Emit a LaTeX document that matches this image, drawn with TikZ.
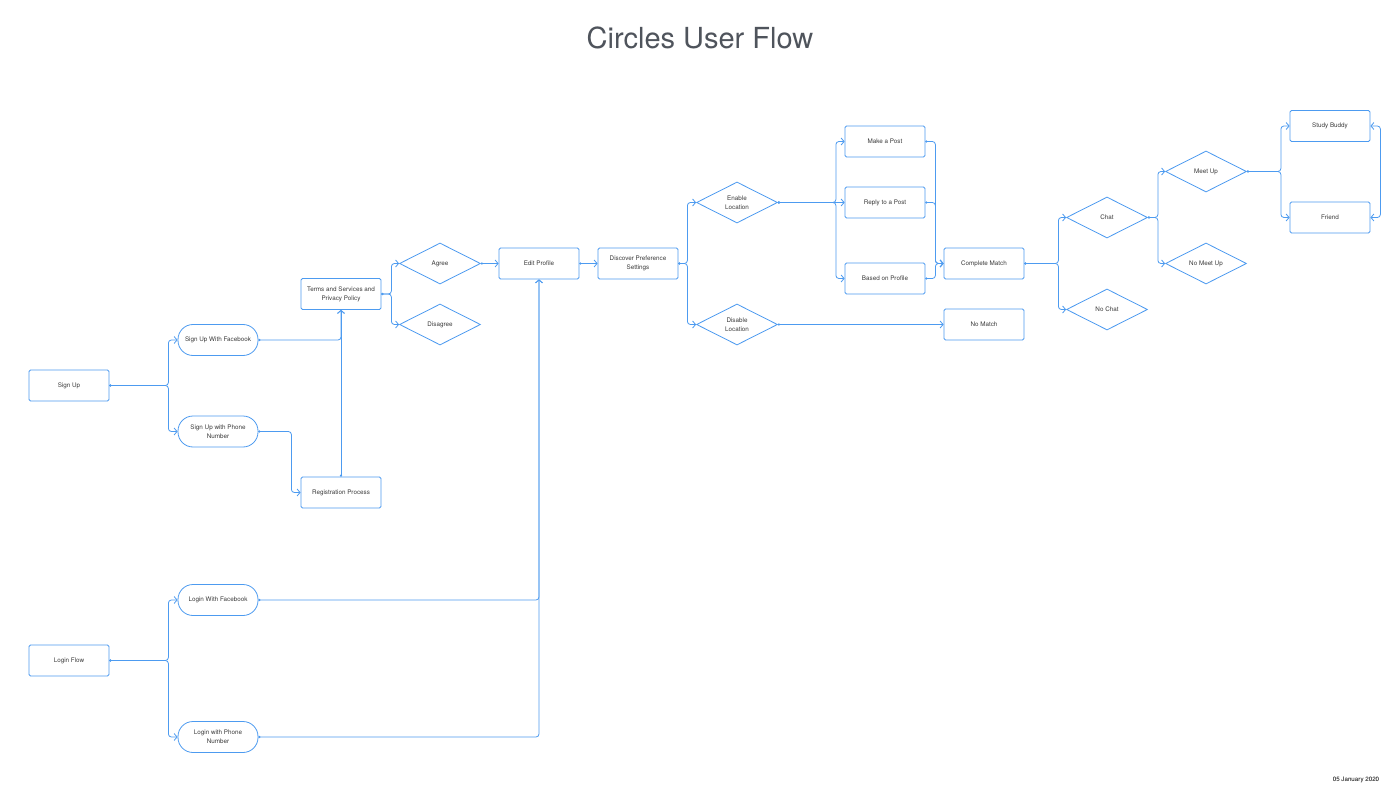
\documentclass[tikz,border=0pt]{standalone}
\usepackage{fontspec}
\setmainfont{TeX Gyre Heros}
\usetikzlibrary{shapes.geometric,arrows.meta}
\definecolor{flowblue}{HTML}{4D9BF0}
\definecolor{txt}{HTML}{3A3A3A}
\definecolor{titlegray}{HTML}{4F545C}
\begin{document}
\begin{tikzpicture}[x=1pt,y=-1pt,
  base/.style={draw=flowblue, line width=0.8pt, text=txt, font=\fontsize{6.3}{9}\selectfont, align=center, inner sep=1pt},
  box/.style={base, rectangle, rounded corners=1.5pt, minimum width=80pt, minimum height=31pt},
  pill/.style={base, rectangle, rounded corners=15pt, minimum width=80pt, minimum height=31pt},
  dia/.style={base, diamond, aspect=2, minimum width=81pt, minimum height=41pt},
  conn/.style={draw=flowblue, line width=0.8pt, rounded corners=3pt, {Circle[length=2pt]}-{Straight Barb[length=3pt,width=7pt]}},
  conn2/.style={draw=flowblue, line width=0.8pt, rounded corners=3pt, {Straight Barb[length=3pt,width=7pt]}-{Straight Barb[length=3pt,width=7pt]}}
]
\useasboundingbox[fill=white] (0,0) rectangle (1400,810);

\node[text=titlegray, font=\fontsize{29}{34}\selectfont] (title) at (700,38) {Circles User Flow};
\node[text=black, font=\fontsize{6.2}{8}\selectfont] (date) at (1356,780) {05 January 2020};

\node[box] (su) at (69,385.5) {Sign Up};
\node[box] (lf) at (69,660.5) {Login Flow};
\node[pill] (sfb) at (218,340) {Sign Up With Facebook};
\node[pill] (sph) at (218,431.5) {Sign Up with Phone\\Number};
\node[pill] (lfb) at (218,600) {Login With Facebook};
\node[pill] (lph) at (218,737) {Login with Phone\\Number};
\node[box] (tos) at (341,294) {Terms and Services and\\Privacy Policy};
\node[box] (reg) at (341,492.5) {Registration Process};
\node[dia] (agree) at (440,263.5) {Agree};
\node[dia] (disagree) at (440,324.5) {Disagree};
\node[box] (edit) at (539,263.5) {Edit Profile};
\node[box] (disc) at (638,263.5) {Discover Preference\\Settings};
\node[dia] (enable) at (737,202.5) {Enable\\Location};
\node[dia] (disable) at (737,324.5) {Disable\\Location};
\node[box] (make) at (885,141.5) {Make a Post};
\node[box] (reply) at (885,202.5) {Reply to a Post};
\node[box] (based) at (885,278.5) {Based on Profile};
\node[box] (cm) at (984,263.5) {Complete Match};
\node[box] (nomatch) at (984,324.5) {No Match};
\node[dia] (chat) at (1107,217.5) {Chat};
\node[dia] (nochat) at (1107,309.5) {No Chat};
\node[dia] (meet) at (1206,171.5) {Meet Up};
\node[dia] (nomeet) at (1206,263.5) {No Meet Up};
\node[box] (sb) at (1330,126) {Study Buddy};
\node[box] (friend) at (1330,217.5) {Friend};

\draw[conn] (su.east) -- ++(59,0) |- (sfb.west);
\draw[conn] (su.east) -- ++(59,0) |- (sph.west);
\draw[conn] (sfb.east) -| (tos.south);
\draw[conn] (sph.east) -- ++(33,0) |- (reg.west);
\draw[conn] (reg.north) -- (tos.south);
\draw[conn] (tos.east) -- ++(10,0) |- (agree.west);
\draw[conn] (tos.east) -- ++(10,0) |- (disagree.west);
\draw[conn] (agree.east) -- (edit.west);
\draw[conn] (lf.east) -- ++(59,0) |- (lfb.west);
\draw[conn] (lf.east) -- ++(59,0) |- (lph.west);
\draw[conn] (lfb.east) -| (edit.south);
\draw[conn] (lph.east) -| (edit.south);
\draw[conn] (edit.east) -- (disc.west);
\draw[conn] (disc.east) -- ++(9,0) |- (enable.west);
\draw[conn] (disc.east) -- ++(9,0) |- (disable.west);
\draw[conn] (enable.east) -- ++(58,0) |- (make.west);
\draw[conn] (enable.east) -- (reply.west);
\draw[conn] (enable.east) -- ++(58,0) |- (based.west);
\draw[conn] (disable.east) -- (nomatch.west);
\draw[conn] (make.east) -- ++(10,0) |- (cm.west);
\draw[conn] (reply.east) -- ++(10,0) |- (cm.west);
\draw[conn] (based.east) -- ++(10,0) |- (cm.west);
\draw[conn] (cm.east) -- ++(34,0) |- (chat.west);
\draw[conn] (cm.east) -- ++(34,0) |- (nochat.west);
\draw[conn] (chat.east) -- ++(10,0) |- (meet.west);
\draw[conn] (chat.east) -- ++(10,0) |- (nomeet.west);
\draw[conn] (meet.east) -- ++(34,0) |- (sb.west);
\draw[conn] (meet.east) -- ++(34,0) |- (friend.west);
\draw[conn2] (sb.east) -- ++(10,0) |- (friend.east);
\end{tikzpicture}
\end{document}
